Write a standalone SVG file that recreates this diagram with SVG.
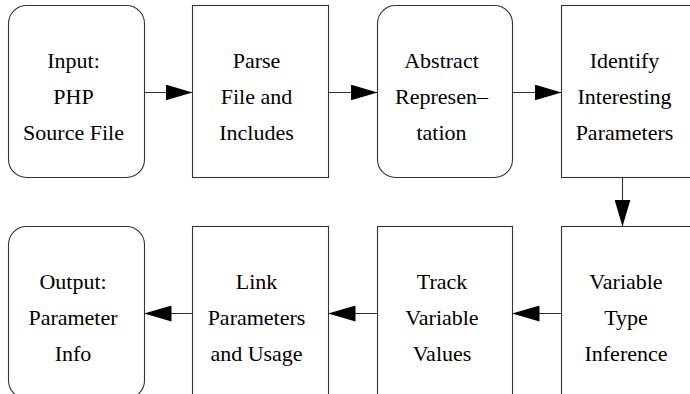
<svg xmlns="http://www.w3.org/2000/svg" width="690" height="394" viewBox="0 0 690 394">
<style>
.b{fill:#fff;stroke:#333;stroke-width:1.1}
.t{font-size:22px;fill:#000;text-anchor:middle}
.c{stroke:#333;stroke-width:1.1;fill:none}
</style>
<defs>
<marker id="ah" markerWidth="27" markerHeight="16" refX="27" refY="8" orient="auto" markerUnits="userSpaceOnUse">
<path d="M0,0 L27,8 L0,16 Z" fill="#000"/>
</marker>
</defs>
<rect width="690" height="394" fill="#fff"/>
<g font-family="Liberation Serif, Times New Roman, DejaVu Serif, serif">
<g id="n1"><rect class="b" x="8.5" y="5.5" width="136" height="172" rx="18"/>
<text class="t" x="73.5" y="68">Input:</text><text class="t" x="73.5" y="104">PHP</text><text class="t" x="73.5" y="140">Source File</text></g>
<g id="n2"><rect class="b" x="192.5" y="5.5" width="136" height="172"/>
<text class="t" x="256.5" y="68">Parse</text><text class="t" x="256.5" y="104">File and</text><text class="t" x="256.5" y="140">Includes</text></g>
<g id="n3"><rect class="b" x="377.5" y="5.5" width="135" height="172" rx="18"/>
<text class="t" x="441.5" y="68">Abstract</text><text class="t" x="441.5" y="104">Represen–</text><text class="t" x="441.5" y="140">tation</text></g>
<g id="n4"><rect class="b" x="561.5" y="5.5" width="136" height="172"/>
<text class="t" x="624.5" y="68">Identify</text><text class="t" x="624.5" y="104">Interesting</text><text class="t" x="624.5" y="140">Parameters</text></g>
<g id="n5"><rect class="b" x="8.5" y="226.5" width="136" height="172" rx="18"/>
<text class="t" x="73" y="289">Output:</text><text class="t" x="73" y="325">Parameter</text><text class="t" x="73" y="361">Info</text></g>
<g id="n6"><rect class="b" x="192.5" y="226.5" width="136" height="172"/>
<text class="t" x="256.5" y="289">Link</text><text class="t" x="256.5" y="325">Parameters</text><text class="t" x="256.5" y="361">and Usage</text></g>
<g id="n7"><rect class="b" x="377.5" y="226.5" width="135" height="172"/>
<text class="t" x="442" y="289">Track</text><text class="t" x="442" y="325">Variable</text><text class="t" x="442" y="361">Values</text></g>
<g id="n8"><rect class="b" x="561.5" y="226.5" width="136" height="172"/>
<text class="t" x="626" y="289">Variable</text><text class="t" x="626" y="325">Type</text><text class="t" x="626" y="361">Inference</text></g>
</g>
<g id="connectors">
<line class="c" x1="144.5" y1="92.5" x2="192.5" y2="92.5" marker-end="url(#ah)"/>
<line class="c" x1="328.5" y1="92.5" x2="377.5" y2="92.5" marker-end="url(#ah)"/>
<line class="c" x1="512.5" y1="92.5" x2="561.5" y2="92.5" marker-end="url(#ah)"/>
<line class="c" x1="622.5" y1="177.5" x2="622.5" y2="226.5" marker-end="url(#ah)"/>
<line class="c" x1="561.5" y1="313.5" x2="512.5" y2="313.5" marker-end="url(#ah)"/>
<line class="c" x1="377.5" y1="313.5" x2="328.5" y2="313.5" marker-end="url(#ah)"/>
<line class="c" x1="192.5" y1="313.5" x2="144.5" y2="313.5" marker-end="url(#ah)"/>
</g>
</svg>
